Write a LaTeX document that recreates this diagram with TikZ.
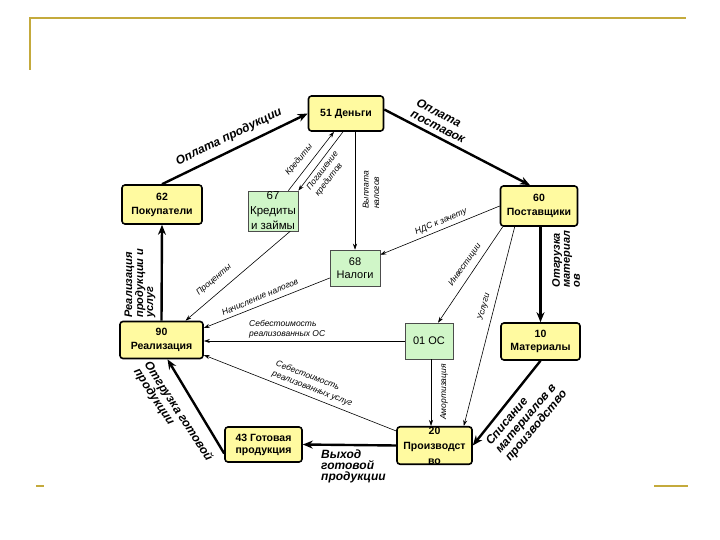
\documentclass[tikz,border=0pt]{standalone}
\usepackage{fontspec}
\setmainfont{Liberation Sans}
\usetikzlibrary{arrows.meta}
\definecolor{gold}{RGB}{196,170,60}
\definecolor{yfill}{RGB}{255,250,160}
\definecolor{gfill}{RGB}{208,246,200}
\begin{document}
\begin{tikzpicture}[x=1pt,y=-1pt,
  yb/.style={draw=black, line width=1.6pt, rounded corners=3pt, fill=yfill, font=\fontsize{10.5}{14}\selectfont\bfseries, align=center, inner sep=0pt},
  gb/.style={draw=black!70, line width=0.5pt, fill=gfill, font=\fontsize{11.5}{14}\selectfont, align=center, inner sep=0pt},
  thk/.style={line width=2.4pt, -{Stealth[length=10pt,width=8pt]}},
  thn/.style={line width=0.6pt, -{Stealth[length=6pt,width=4pt]}},
  bl/.style={font=\fontsize{12}{12.5}\selectfont\bfseries\itshape, align=left, inner sep=0pt},
  sl/.style={font=\fontsize{8.5}{10.5}\selectfont\itshape, align=left, inner sep=0pt},
]
\fill[white] (0,0) rectangle (720,540);
\useasboundingbox (0,0) rectangle (720,540);
% decoration
\draw[gold, line width=2pt] (30,70) -- (30,18) -- (686,18);
\draw[gold, line width=2pt] (36,486) -- (44,486);
\draw[gold, line width=2pt] (654,486) -- (688,486);
% nodes
\node[yb, minimum width=75pt, minimum height=35pt] (n51) at (346,113.5) {51 Деньги};
\node[yb, minimum width=77pt, minimum height=40pt] (n60) at (539,206) {60\\Поставщики};
\node[yb, minimum width=80pt, minimum height=39pt] (n62) at (162,204.5) {62\\Покупатели};
\node[yb, minimum width=83pt, minimum height=37pt] (n90) at (161.5,340) {90\\Реализация};
\node[yb, minimum width=79pt, minimum height=37pt, font=\fontsize{10.5}{13}\selectfont\bfseries] (n10) at (540.5,341.5) {10\\Материалы};
\node[yb, minimum width=75pt, minimum height=37pt, font=\fontsize{10.5}{15}\selectfont\bfseries] (n20) at (434.5,445.5) {20\\Производст\\во};
\node[yb, minimum width=77pt, minimum height=35pt, font=\fontsize{10.5}{12}\selectfont\bfseries] (n43) at (263.5,444.5) {43 Готовая\\продукция};
\node[gb, minimum width=50pt, minimum height=40pt, font=\fontsize{11.5}{15}\selectfont] (n67) at (273,211) {67\\Кредиты\\и займы};
\node[gb, minimum width=50pt, minimum height=36pt, font=\fontsize{11}{13}\selectfont] (n68) at (355,268) {68\\Налоги};
\node[gb, minimum width=48pt, minimum height=36pt, font=\fontsize{11}{13}\selectfont] (n01) at (429,341) {01 ОС};
% thick connectors
\draw[thk] (n62.north) -- (n51.west);
\draw[thk] ([yshift=4pt]n51.east) -- ([xshift=-9pt]n60.north);
\draw[thk] (n60.south -| n10.north) -- (n10.north);
\draw[thk] (n10.south) -- (n20.east);
\draw[thk] (n20.west) -- (n43.east);
\draw[thk] ([yshift=-9pt]n43.west) -- ([xshift=6pt]n90.south);
\draw[thk] (n90.north) -- (n62.south);
% thin connectors
\draw[thn] ([xshift=-10pt]n67.north east) -- ([xshift=-12pt]n51.south);
\draw[thn] ([xshift=-3pt]n51.south) -- (n67.north east);
\draw[thn] (n51.south -| n68.north) -- (n68.north);
\draw[thn] (n60.west) -- ([yshift=-5pt]n68.north east);
\draw[thn] ([xshift=3pt]n60.south west) -- ([xshift=9pt]n01.north);
\draw[thn] ([xshift=15pt]n60.south west) -- ([xshift=-9pt]n20.north east);
\draw[thn] ([xshift=2pt]n01.south) -- ([xshift=2pt]n01.south |- n20.north);
\draw[thn] (n01.west) -- (n01.west -| n90.east);
\draw[thn] ([yshift=-10pt]n68.west) -- ([yshift=12pt]n90.east);
\draw[thn] ([xshift=-8pt]n67.south east) -- ([xshift=24pt]n90.north);
\draw[thn] ([yshift=-5pt]n20.north west) -- ([yshift=-15pt]n90.east);
% thick labels
\node[bl, rotate=26] (t1) at (229,137) {Оплата продукции};
\node[bl, rotate=-27] (t2) at (441,121) {Оплата\\поставок};
\node[bl, rotate=90, font=\fontsize{11}{10}\selectfont\bfseries\itshape] (t3) at (566,259) {Отгрузка\\материал\\ов};
\node[bl, rotate=50] (t4) at (527,418) {Списание\\материалов в\\производство};
\node[bl, anchor=north west, font=\fontsize{12}{11}\selectfont\bfseries\itshape] (t5) at (321,450) {Выход\\готовой\\продукции};
\node[bl, rotate=-57] (t6) at (173,415) {Отгрузка готовой\\продукции};
\node[bl, rotate=90, font=\fontsize{11}{10}\selectfont\bfseries\itshape] (t7) at (140,283) {Реализация\\продукции и\\услуг};
% thin labels
\node[sl, rotate=50] (t8) at (299,160) {Кредиты};
\node[sl, rotate=52] (t9) at (327,174) {Погашение\\кредитов};
\node[sl, rotate=90] (t10) at (371,190) {Выплата\\налогов};
\node[sl, rotate=23] (t11) at (441,222) {НДС к зачету};
\node[sl, rotate=55] (t12) at (465,265) {Инвестиции};
\node[sl, rotate=75] (t13) at (484,307) {Услуги};
\node[sl, rotate=90] (t14) at (444,392) {Амортизация};
\node[sl, anchor=north west] (t15) at (249,320) {Себестоимость\\реализованных ОС};
\node[sl, rotate=23] (t16) at (260,297) {Начисление налогов};
\node[sl, rotate=41] (t17) at (214,280) {Проценты};
\node[sl, rotate=-21] (t18) at (314,384) {Себестоимость\\реализованных услуг};
\end{tikzpicture}
\end{document}
